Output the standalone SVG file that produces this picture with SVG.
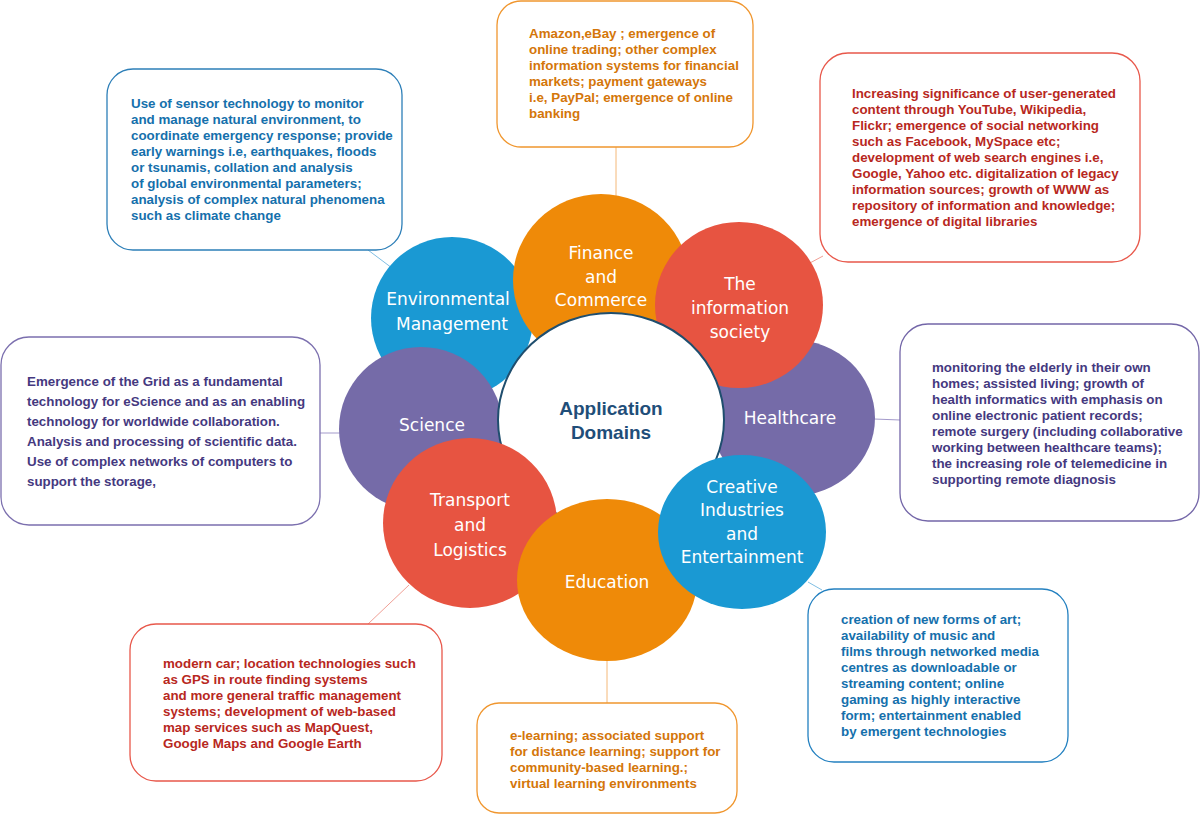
<svg xmlns="http://www.w3.org/2000/svg" width="1200" height="815" viewBox="0 0 1200 815">
<style>
.box{fill:#fff;stroke-width:1.3}
.bt{font-family:"Liberation Sans",Arial,sans-serif;font-weight:bold;font-size:13.35px}
.ct{font-family:"Comic Sans MS","DejaVu Sans",sans-serif;font-size:17px;fill:#fff;text-anchor:middle}
.blue{fill:#1A99D3}.orange{fill:#EF8A08}.red{fill:#E75441}.purple{fill:#756BA8}
.tb{fill:#1570AC}.to{fill:#D4760A}.tr{fill:#B8281E}.tp{fill:#45397F}
.conn line{stroke-width:1}
</style>
<rect width="1200" height="815" fill="#fff"/>
<g id="connectors" class="conn">
<line x1="368" y1="250" x2="392" y2="268" stroke="#7FBEE3"/>
<line x1="616" y1="147" x2="616" y2="196" stroke="#F4B878"/>
<line x1="823" y1="256" x2="808" y2="264" stroke="#F0A096"/>
<line x1="320" y1="433" x2="341" y2="433" stroke="#A39ACB"/>
<line x1="874" y1="419" x2="900" y2="420" stroke="#A39ACB"/>
<line x1="368" y1="624" x2="409" y2="585" stroke="#F0A096"/>
<line x1="607" y1="660" x2="607" y2="703" stroke="#F4B878"/>
<line x1="808" y1="582" x2="822" y2="590" stroke="#7FBEE3"/>
</g>
<g id="circle-env"><circle cx="452" cy="318" r="81" class="blue"/><text class="ct" x="448" y="305">Environmental</text><text class="ct" x="452" y="330">Management</text></g>
<g id="circle-health"><ellipse cx="793" cy="418" rx="82" ry="78" class="purple"/><text class="ct" x="790" y="424">Healthcare</text></g>
<g id="circle-finance"><ellipse cx="601" cy="280" rx="88" ry="86" class="orange"/><text class="ct" x="601" y="259">Finance</text><text class="ct" x="601" y="283">and</text><text class="ct" x="601" y="306">Commerce</text></g>
<g id="circle-info"><ellipse cx="739" cy="305" rx="84" ry="83" class="red"/><text class="ct" x="740" y="290">The</text><text class="ct" x="740" y="314">information</text><text class="ct" x="740" y="338">society</text></g>
<g id="circle-science"><circle cx="421" cy="429" r="82" class="purple"/><text class="ct" x="432" y="431">Science</text></g>
<g id="center"><ellipse cx="611" cy="420" rx="113" ry="107" fill="#fff" stroke="#1F4E6E" stroke-width="2"/><text x="611" y="415" font-family="Liberation Sans,Arial,sans-serif" font-weight="bold" font-size="19" fill="#1F4E79" text-anchor="middle">Application</text><text x="611" y="439" font-family="Liberation Sans,Arial,sans-serif" font-weight="bold" font-size="19" fill="#1F4E79" text-anchor="middle">Domains</text></g>
<g id="circle-transport"><ellipse cx="470" cy="523" rx="87" ry="85" class="red"/><text class="ct" x="470" y="506">Transport</text><text class="ct" x="470" y="531">and</text><text class="ct" x="470" y="556">Logistics</text></g>
<g id="circle-education"><ellipse cx="607" cy="580" rx="90" ry="81" class="orange"/><text class="ct" x="607" y="588">Education</text></g>
<g id="circle-creative"><ellipse cx="742" cy="532" rx="84" ry="77" class="blue"/><text class="ct" x="742" y="493">Creative</text><text class="ct" x="742" y="516">Industries</text><text class="ct" x="742" y="540">and</text><text class="ct" x="742" y="563">Entertainment</text></g>
<g id="box-env"><rect x="107" y="69" width="295" height="181" rx="26" class="box" stroke="#2D7FB8"/>
<text class="bt tb" x="131"><tspan x="131" y="108">Use of sensor technology to monitor</tspan><tspan x="131" y="124">and manage natural environment, to</tspan><tspan x="131" y="140">coordinate emergency response; provide</tspan><tspan x="131" y="156">early warnings i.e, earthquakes, floods</tspan><tspan x="131" y="172">or tsunamis, collation and analysis</tspan><tspan x="131" y="188">of global environmental parameters;</tspan><tspan x="131" y="204">analysis of complex natural phenomena</tspan><tspan x="131" y="220">such as climate change</tspan></text></g>
<g id="box-finance"><rect x="497" y="1" width="256" height="146" rx="24" class="box" stroke="#F0962E"/>
<text class="bt to"><tspan x="529" y="38">Amazon,eBay ; emergence of</tspan><tspan x="529" y="54">online trading; other complex</tspan><tspan x="529" y="70">information systems for financial</tspan><tspan x="529" y="86">markets; payment gateways</tspan><tspan x="529" y="102">i.e, PayPal; emergence of online</tspan><tspan x="529" y="118">banking</tspan></text></g>
<g id="box-info"><rect x="820" y="53" width="320" height="209" rx="28" class="box" stroke="#E8584B"/>
<text class="bt tr"><tspan x="852" y="98">Increasing significance of user-generated</tspan><tspan x="852" y="114">content through YouTube, Wikipedia,</tspan><tspan x="852" y="130">Flickr; emergence of social networking</tspan><tspan x="852" y="146">such as Facebook, MySpace etc;</tspan><tspan x="852" y="162">development of web search engines i.e,</tspan><tspan x="852" y="178">Google, Yahoo etc. digitalization of legacy</tspan><tspan x="852" y="194">information sources; growth of WWW as</tspan><tspan x="852" y="210">repository of information and knowledge;</tspan><tspan x="852" y="226">emergence of digital libraries</tspan></text></g>
<g id="box-science"><rect x="1" y="337" width="319" height="188" rx="28" class="box" stroke="#7B6FAE"/>
<text class="bt tp"><tspan x="27" y="386">Emergence of the Grid as a fundamental</tspan><tspan x="27" y="406">technology for eScience and as an enabling</tspan><tspan x="27" y="426">technology for worldwide collaboration.</tspan><tspan x="27" y="446">Analysis and processing  of scientific data.</tspan><tspan x="27" y="466">Use of complex networks of computers to</tspan><tspan x="27" y="486">support the storage,</tspan></text></g>
<g id="box-health"><rect x="900" y="324" width="299" height="197" rx="28" class="box" stroke="#7366A8"/>
<text class="bt tp"><tspan x="932" y="372">monitoring the elderly in their own</tspan><tspan x="932" y="388">homes; assisted living; growth of</tspan><tspan x="932" y="404">health informatics with emphasis on</tspan><tspan x="932" y="420">online electronic patient records;</tspan><tspan x="932" y="436">remote surgery (including collaborative</tspan><tspan x="932" y="452">working between healthcare teams);</tspan><tspan x="932" y="468">the increasing role of telemedicine  in</tspan><tspan x="932" y="484">supporting remote diagnosis</tspan></text></g>
<g id="box-transport"><rect x="130" y="624" width="312" height="157" rx="26" class="box" stroke="#E8584B"/>
<text class="bt tr"><tspan x="163" y="668">modern car; location technologies such</tspan><tspan x="163" y="684">as GPS in route finding systems</tspan><tspan x="163" y="700">and more general traffic management</tspan><tspan x="163" y="716">systems; development of web-based</tspan><tspan x="163" y="732">map services such as MapQuest,</tspan><tspan x="163" y="748">Google Maps and Google Earth</tspan></text></g>
<g id="box-education"><rect x="477" y="703" width="260" height="110" rx="22" class="box" stroke="#F0962E"/>
<text class="bt to"><tspan x="510" y="740">e-learning; associated support</tspan><tspan x="510" y="756">for distance learning; support for</tspan><tspan x="510" y="772">community-based learning.;</tspan><tspan x="510" y="788">virtual learning environments</tspan></text></g>
<g id="box-creative"><rect x="808" y="589" width="260" height="173" rx="26" class="box" stroke="#2380C0"/>
<text class="bt tb"><tspan x="841" y="624">creation of new forms of art;</tspan><tspan x="841" y="640">availability of music and</tspan><tspan x="841" y="656">films through networked media</tspan><tspan x="841" y="672">centres as downloadable or</tspan><tspan x="841" y="688">streaming content; online</tspan><tspan x="841" y="704">gaming as highly interactive</tspan><tspan x="841" y="720">form; entertainment enabled</tspan><tspan x="841" y="736">by emergent technologies</tspan></text></g>
</svg>
